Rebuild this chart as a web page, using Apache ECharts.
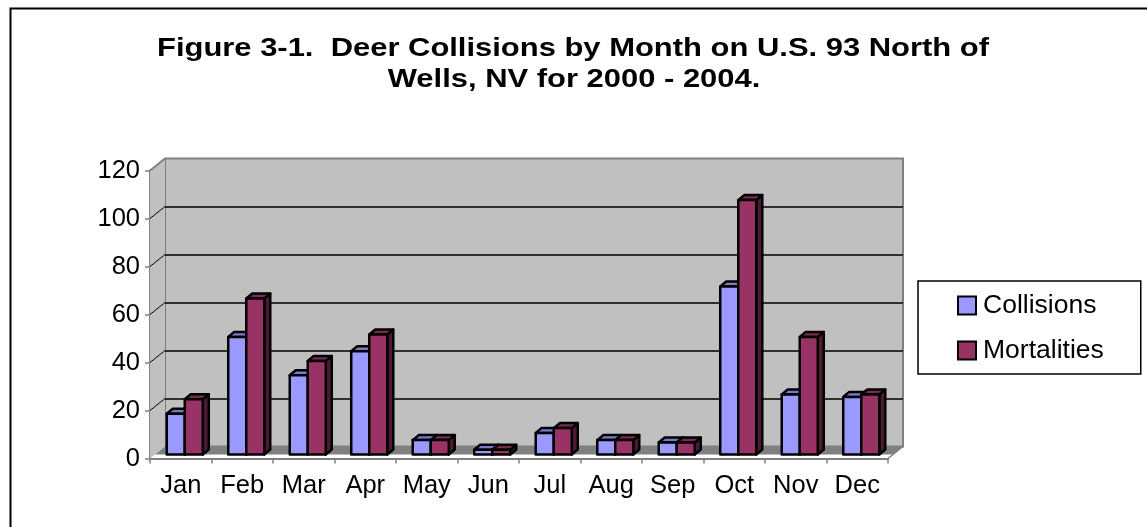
<!DOCTYPE html>
<html>
<head>
<meta charset="utf-8">
<script src="https://cdn.jsdelivr.net/npm/echarts@6/dist/echarts.min.js"></script>
<style>
html,body{margin:0;padding:0;background:#fff;}
#c{width:1147px;height:527px;}
</style>
</head>
<body>
<div id="c"></div>
<script>
const months = ['Jan','Feb','Mar','Apr','May','Jun','Jul','Aug','Sep','Oct','Nov','Dec'];
const collisions = [17,49,33,43,6,2,9,6,5,70,25,24];
const mortalities = [23,65,39,50,6,2,11,6,5,106,49,25];
const yMin = 0, yMax = 120, yStep = 20;
const titleLines = ['Figure 3-1.  Deer Collisions by Month on U.S. 93 North of', 'Wells, NV for 2000 - 2004.'];

const FONT = '"Liberation Sans", Arial, sans-serif';
const DX = 15, DY = -12;          // depth of the plot box
const FX = 5, FY = -4;            // bar front face depth
const BX = 6, BY = -5;            // bar depth
const BAR_FRAC = 0.293;

const colors = {
  Collisions: {front:'#9999FF', top:'#7A7ACC', side:'#4D4D80'},
  Mortalities: {front:'#993366', top:'#7A2952', side:'#4D1A33'}
};

function barRender(side, c) {
  return function(params, api) {
    const i = api.value(0), v = api.value(1);
    const base = api.coord([i, 0]);
    const top = api.coord([i, v]);
    const band = api.size([1, 0])[0];
    const w = band * BAR_FRAC;
    const cx = base[0] + FX - 1;
    const x0 = side === 0 ? cx - w : cx;
    const yb = base[1] + FY, yt = top[1] + FY;
    const st = {stroke:'#000', lineWidth:2.5, lineJoin:'round'};
    return {type:'group', children:[
      {type:'polygon', shape:{points:[[x0+w,yt],[x0+w,yb],[x0+w+BX,yb+BY],[x0+w+BX,yt+BY]]}, style:Object.assign({fill:c.side}, st)},
      {type:'polygon', shape:{points:[[x0,yt],[x0+w,yt],[x0+w+BX,yt+BY],[x0+BX,yt+BY]]}, style:Object.assign({fill:c.top}, st)},
      {type:'rect', shape:{x:x0, y:yt, width:w, height:yb-yt}, style:Object.assign({fill:c.front}, st)}
    ]};
  };
}

function wallRender(params, api) {
  const cs = params.coordSys;
  const L = cs.x, R = cs.x + cs.width, T = cs.y, B = cs.y + cs.height;
  const kids = [];
  kids.push({type:'polygon', shape:{points:[[L,B],[L,T],[L+DX,T+DY],[L+DX,B+DY]]},
    style:{fill:'#C0C0C0', stroke:null}});
  for (let t = yMin + yStep; t < yMax; t += yStep) {
    const p = api.coord([0, t]);
    kids.push({type:'line', shape:{x1:L, y1:p[1], x2:L+DX, y2:p[1]+DY}, style:{stroke:'#000', lineWidth:1}});
  }
  kids.push({type:'line', shape:{x1:L, y1:T, x2:L+DX, y2:T+DY}, style:{stroke:'#808080', lineWidth:2}});
  const ff = (B + FY);
  const fxo = DX * (FY / DY);
  kids.push({type:'polygon', shape:{points:[[L+fxo,ff],[R+fxo,ff],[R+DX,B+DY],[L+DX,B+DY]]},
    style:{fill:'#808080', stroke:null}});
  kids.push({type:'line', shape:{x1:R, y1:B, x2:R+DX, y2:B+DY}, style:{stroke:'#808080', lineWidth:1.5}});
  return {type:'group', children:kids};
}

const TITLE_FONT = 'bold 26px ' + FONT;
const TITLE_SX = 1.19;
const chart = echarts.init(document.getElementById('c'), null, {renderer:'canvas'});
const option = {
  backgroundColor:'#fff',
  animation:false,
  graphic:[
    {type:'rect', left:8, top:6, shape:{width:1160, height:540}, style:{fill:null, stroke:'#000', lineWidth:2}, silent:true, z:100},
    {type:'text', x:573, y:48.5, scaleX:TITLE_SX, silent:true, z:100,
      style:{text:titleLines[0], font:TITLE_FONT, fill:'#000', align:'center', verticalAlign:'middle'}},
    {type:'text', x:574, y:79.5, scaleX:TITLE_SX, silent:true, z:100,
      style:{text:titleLines[1], font:TITLE_FONT, fill:'#000', align:'center', verticalAlign:'middle'}}
  ],
  legend:{
    orient:'vertical', left:918, top:281,
    padding:[11,37,10,39], itemGap:18, itemWidth:18, itemHeight:18,
    borderColor:'#000', borderWidth:1.5,
    textStyle:{fontFamily:FONT, fontSize:26.5, color:'#000', lineHeight:25, padding:[0,0,0,2]},
    data:[
      {name:'Collisions', icon:'rect', itemStyle:{color:'#9999FF', borderColor:'#000', borderWidth:2}},
      {name:'Mortalities', icon:'rect', itemStyle:{color:'#993366', borderColor:'#000', borderWidth:2}}
    ]
  },
  grid:[
    {left:150, top:170.5, width:738, height:288},
    {left:165, top:158.5, width:738, height:288, show:true, backgroundColor:'#C0C0C0', borderColor:'#808080', borderWidth:2}
  ],
  xAxis:[
    {type:'category', gridIndex:0, data:months,
      axisLine:{lineStyle:{color:'#808080', width:2}},
      axisTick:{show:true, length:5, lineStyle:{color:'#808080', width:1.5}},
      axisLabel:{interval:0, fontFamily:FONT, fontSize:25.5, color:'#000', margin:15, lineHeight:25, hideOverlap:false}},
    {type:'category', gridIndex:1, data:months, show:false}
  ],
  yAxis:[
    {type:'value', gridIndex:0, min:yMin, max:yMax, interval:yStep,
      axisLine:{show:true, lineStyle:{color:'#808080', width:2}},
      axisTick:{show:true, length:5, lineStyle:{color:'#808080', width:1.5}},
      splitLine:{show:false},
      axisLabel:{fontFamily:FONT, fontSize:25.5, color:'#000', margin:10}},
    {type:'value', gridIndex:1, min:yMin, max:yMax, interval:yStep,
      axisLine:{show:false}, axisTick:{show:false}, axisLabel:{show:false},
      splitLine:{show:true, showMinLine:false, showMaxLine:false, lineStyle:{color:'#000', width:1.5}}}
  ],
  series:[
    {type:'custom', name:'walls', xAxisIndex:0, yAxisIndex:0, data:[[0,0]], renderItem:wallRender, silent:true, z:1, clip:false},
    {type:'custom', name:'Collisions', xAxisIndex:0, yAxisIndex:0, z:3, clip:false,
      itemStyle:{color:'#9999FF'}, encode:{x:0, y:1},
      data:collisions.map((v,i)=>[i,v]), renderItem:barRender(0, colors.Collisions)},
    {type:'custom', name:'Mortalities', xAxisIndex:0, yAxisIndex:0, z:4, clip:false,
      itemStyle:{color:'#993366'}, encode:{x:0, y:1},
      data:mortalities.map((v,i)=>[i,v]), renderItem:barRender(1, colors.Mortalities)}
  ]
};
chart.setOption(option);
</script>
</body>
</html>
